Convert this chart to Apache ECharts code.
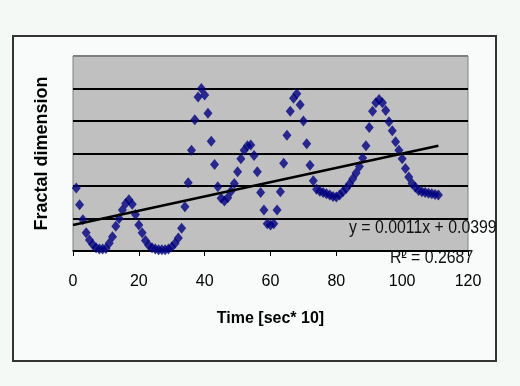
<!DOCTYPE html>
<html>
<head>
<meta charset="utf-8">
<script src="https://cdn.jsdelivr.net/npm/echarts@6/dist/echarts.min.js"></script>
<style>
html,body{margin:0;padding:0;background:#f5f9f6;}
#chart{width:520px;height:386px;}
</style>
</head>
<body>
<div id="chart"></div>
<script>
// Time [sec*10]
var timeValues = [1,2,3,4,5,6,7,8,9,10,11,12,13,14,15,16,17,18,19,20,21,22,23,24,25,26,27,28,29,30,31,32,33,34,35,36,37,38,39,40,41,42,43,44,45,46,47,48,49,50,51,52,53,54,55,56,57,58,59,60,61,62,63,64,65,66,67,68,69,70,71,72,73,74,75,76,77,78,79,80,81,82,83,84,85,86,87,88,89,90,91,92,93,94,95,96,97,98,99,100,101,102,103,104,105,106,107,108,109,110,111];
// Fractal dimension
var fractalValues = [0.097,0.071,0.048,0.028,0.017,0.010,0.005,0.003,0.003,0.004,0.012,0.022,0.038,0.050,0.063,0.073,0.079,0.072,0.056,0.040,0.028,0.016,0.009,0.005,0.003,0.002,0.002,0.002,0.003,0.006,0.012,0.020,0.035,0.068,0.105,0.155,0.202,0.237,0.250,0.240,0.212,0.169,0.133,0.099,0.081,0.077,0.082,0.092,0.104,0.122,0.142,0.155,0.162,0.163,0.147,0.122,0.090,0.063,0.042,0.040,0.042,0.063,0.091,0.135,0.178,0.215,0.235,0.242,0.225,0.200,0.165,0.132,0.108,0.095,0.092,0.090,0.088,0.086,0.084,0.083,0.086,0.091,0.096,0.103,0.111,0.120,0.130,0.143,0.162,0.190,0.215,0.228,0.233,0.228,0.216,0.199,0.185,0.168,0.155,0.142,0.127,0.114,0.104,0.098,0.093,0.091,0.090,0.089,0.088,0.087,0.086];
// Linear trendline (from the chart's equation)
var trendSlope = 0.0011;
var trendIntercept = 0.0399;
var trendRange = [0, 111];
var equationText = 'y = 0.0011x + 0.0399';
var r2Text = 'R\u00B2 = 0.2687';
var xTicks = [0, 20, 40, 60, 80, 100, 120];

var scatterData = timeValues.map(function (t, i) { return [t, fractalValues[i]]; });
var trendData = trendRange.map(function (t) { return [t, trendSlope * t + trendIntercept]; });

var chart = echarts.init(document.getElementById('chart'), null, {renderer: 'canvas'});
chart.setOption({
  backgroundColor: '#f5f9f6',
  animation: false,
  graphic: [
    {type: 'rect', z: -10, shape: {x: 13, y: 36, width: 483, height: 325},
     style: {fill: '#f8fbf9', stroke: '#333333', lineWidth: 2}},
    {type: 'text', z: 10, x: 349, y: 219, scaleX: 0.88,
     style: {text: equationText, font: '18px "Liberation Sans", Arial', fill: '#111'}},
    {type: 'text', z: 10, x: 390, y: 249, scaleX: 0.88,
     style: {text: r2Text, font: '18px "Liberation Sans", Arial', fill: '#111'}}
  ],
  grid: {left: 73, right: 52, top: 56, bottom: 135, show: true,
         backgroundColor: '#c0c0c0', borderColor: '#808080', borderWidth: 1},
  xAxis: {
    type: 'value', min: 0, max: 120, interval: 20,
    name: 'Time [sec* 10]', nameLocation: 'middle', nameGap: 60,
    nameTextStyle: {fontFamily: '"Liberation Sans", Arial', fontWeight: 'bold', fontSize: 16, color: '#000'},
    axisLine: {show: true, onZero: false, lineStyle: {color: '#000', width: 1.5}},
    axisTick: {show: true, inside: false, length: 5, lineStyle: {color: '#000'}},
    axisLabel: {margin: 23, fontFamily: '"Liberation Sans", Arial', fontSize: 16, color: '#000',
                formatter: function (v) { return xTicks.indexOf(v) >= 0 ? String(v) : ''; }},
    splitLine: {show: false}
  },
  yAxis: {
    type: 'value', min: 0, max: 0.3, interval: 0.05,
    name: 'Fractal dimension', nameLocation: 'middle', nameGap: 22,
    nameTextStyle: {fontFamily: '"Liberation Sans", Arial', fontWeight: 'bold', fontSize: 18, color: '#000'},
    axisLine: {show: false},
    axisTick: {show: false},
    axisLabel: {show: false},
    splitLine: {show: true, lineStyle: {color: ['#000','#000','#000','#000','#000','#000','#808080'], width: 2}}
  },
  series: [
    {
      type: 'scatter', data: scatterData, symbol: 'diamond', symbolSize: [9, 11],
      itemStyle: {color: '#000080'}, z: 3
    },
    {
      type: 'line', data: trendData, symbol: 'none', z: 4,
      lineStyle: {color: '#000', width: 2.5}
    }
  ]
});
</script>
</body>
</html>
